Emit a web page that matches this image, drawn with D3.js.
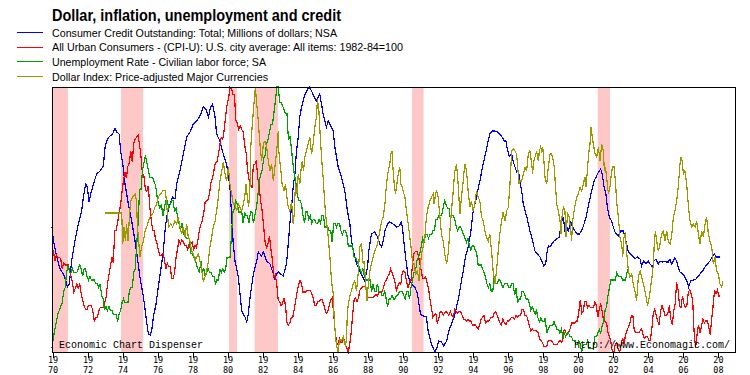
<!DOCTYPE html>
<html><head><meta charset="utf-8">
<script src="https://cdn.jsdelivr.net/npm/d3@7"></script>
<style>
body{margin:0;background:#fff;}
svg{display:block;}
</style></head><body>
<svg id="chart" width="750" height="375"></svg>
<script>
// ---------------- DATA ----------------
const chartTitle = "Dollar, inflation, unemployment and credit";
const seriesNames = [
  "Consumer Credit Outstanding: Total; Millions of dollars; NSA",
  "All Urban Consumers - (CPI-U): U.S. city average: All items: 1982-84=100",
  "Unemployment Rate - Civilian labor force; SA",
  "Dollar Index: Price-adjusted Major Currencies"
];
const tickYears = [1970,1972,1974,1976,1978,1980,1982,1984,1986,1988,1990,1992,1994,1996,1998,2000,2002,2004,2006,2008];
const recessionStart = [1970.00,1973.94,1980.11,1981.57,1990.56,2001.16];
const recessionEnd   = [1970.91,1975.20,1980.56,1982.90,1991.22,2001.86];

// Unemployment rate, monthly from Jan 1970
const unemploymentStart = 1970;
const unemployment = [
3.9,4.2,4.4,4.6,4.8,4.9,5.0,5.1,5.4,5.5,5.9,6.1,
5.9,5.9,6.0,5.9,5.9,5.9,6.0,6.1,6.0,5.8,6.0,6.0,
5.8,5.7,5.8,5.7,5.7,5.7,5.6,5.6,5.5,5.6,5.3,5.2,
4.9,5.0,4.9,5.0,4.9,4.9,4.8,4.8,4.8,4.6,4.8,4.9,
5.1,5.2,5.1,5.1,5.1,5.4,5.5,5.5,5.9,6.0,6.6,7.2,
8.1,8.1,8.6,8.8,9.0,8.8,8.6,8.4,8.4,8.4,8.3,8.2,
7.9,7.7,7.6,7.7,7.4,7.6,7.8,7.8,7.6,7.7,7.8,7.8,
7.5,7.6,7.4,7.2,7.0,7.2,6.9,7.0,6.8,6.8,6.8,6.4,
6.4,6.3,6.3,6.1,6.0,5.9,6.2,5.9,6.0,5.8,5.9,6.0,
5.9,5.9,5.8,5.8,5.6,5.7,5.7,6.0,5.9,6.0,5.9,6.0,
6.3,6.3,6.3,6.9,7.5,7.6,7.8,7.7,7.5,7.5,7.5,7.2,
7.5,7.4,7.4,7.2,7.5,7.5,7.2,7.4,7.6,7.9,8.3,8.5,
8.6,8.9,9.0,9.3,9.4,9.6,9.8,9.8,10.1,10.4,10.8,10.8,
10.4,10.4,10.3,10.2,10.1,10.1,9.4,9.5,9.2,8.8,8.5,8.3,
8.0,7.8,7.8,7.7,7.4,7.2,7.5,7.5,7.3,7.4,7.2,7.3,
7.3,7.2,7.2,7.3,7.2,7.4,7.4,7.1,7.1,7.1,7.0,7.0,
6.7,7.2,7.2,7.1,7.2,7.2,7.0,6.9,7.0,7.0,6.9,6.6,
6.6,6.6,6.6,6.3,6.3,6.2,6.1,6.0,5.9,6.0,5.8,5.7,
5.7,5.7,5.7,5.4,5.6,5.4,5.4,5.6,5.4,5.4,5.3,5.3,
5.4,5.2,5.0,5.2,5.2,5.3,5.2,5.2,5.3,5.3,5.4,5.4,
5.4,5.3,5.2,5.4,5.4,5.2,5.5,5.7,5.9,5.9,6.2,6.3,
6.4,6.6,6.8,6.7,6.9,6.9,6.8,6.9,6.9,7.0,7.0,7.3,
7.3,7.4,7.4,7.4,7.6,7.8,7.7,7.6,7.6,7.3,7.4,7.4,
7.3,7.1,7.0,7.1,7.1,7.0,6.9,6.8,6.7,6.8,6.6,6.5,
6.6,6.6,6.5,6.4,6.1,6.1,6.1,6.0,5.9,5.8,5.6,5.5,
5.6,5.4,5.4,5.8,5.6,5.6,5.7,5.7,5.6,5.5,5.6,5.6,
5.6,5.5,5.5,5.6,5.6,5.3,5.5,5.1,5.2,5.2,5.4,5.4,
5.3,5.2,5.2,5.1,4.9,5.0,4.9,4.8,4.9,4.7,4.6,4.7,
4.6,4.6,4.7,4.3,4.4,4.5,4.5,4.5,4.6,4.5,4.4,4.4,
4.3,4.4,4.2,4.3,4.2,4.3,4.3,4.2,4.2,4.1,4.1,4.0,
4.0,4.1,4.0,3.8,4.0,4.0,4.0,4.1,3.9,3.9,3.9,3.9,
4.2,4.2,4.3,4.4,4.3,4.5,4.6,4.9,5.0,5.3,5.5,5.7,
5.7,5.7,5.7,5.9,5.8,5.8,5.8,5.7,5.7,5.7,5.9,6.0
];

// CPI-U, % change from a year earlier, monthly from Jan 1970
const cpiStart = 1970;
const cpiInflation = [
6.2,6.3,5.8,6.1,6.0,6.0,5.9,5.4,5.7,5.6,5.6,5.6,
5.3,5.0,4.7,4.2,4.4,4.6,4.4,4.6,4.1,3.8,3.5,3.3,
3.3,3.5,3.5,3.5,3.2,2.7,2.9,2.9,3.2,3.4,3.4,3.4,
3.6,3.9,4.6,5.1,5.5,6.0,5.7,7.4,7.4,7.8,8.3,8.7,
9.4,10.0,10.4,10.1,10.7,10.9,11.5,10.9,11.9,12.1,12.2,12.3,
11.8,11.2,10.3,10.2,9.5,9.4,9.7,8.6,7.9,7.4,7.4,6.9,
6.7,6.3,6.1,6.1,6.2,5.9,5.4,5.7,5.5,5.5,4.9,4.9,
5.2,6.0,6.4,6.9,6.7,6.9,6.8,6.6,6.6,6.4,6.7,6.7,
6.8,6.4,6.6,6.5,6.9,7.4,7.7,7.9,8.3,8.9,8.9,9.0,
9.3,9.9,10.1,10.5,10.9,10.9,11.3,11.8,12.2,12.1,12.6,13.3,
13.9,14.2,14.8,14.7,14.4,14.4,13.1,12.9,12.6,12.8,12.6,12.5,
11.8,11.4,10.5,10.0,9.8,9.6,10.8,10.8,11.0,10.1,9.6,8.9,
8.4,7.6,6.8,6.5,6.7,7.1,6.4,5.9,5.0,5.1,4.6,3.8,
3.7,3.5,3.6,3.9,3.5,2.6,2.5,2.6,2.9,2.9,3.3,3.8,
4.2,4.6,4.8,4.6,4.2,4.2,4.2,4.3,4.3,4.3,4.1,3.9,
3.5,3.5,3.7,3.7,3.8,3.8,3.6,3.3,3.1,3.2,3.5,3.8,
3.9,3.1,2.2,1.6,1.5,1.8,1.6,1.6,1.8,1.5,1.3,1.1,
1.5,2.1,3.0,3.8,3.9,3.7,3.9,4.3,4.4,4.5,4.5,4.4,
4.0,3.9,3.9,3.9,3.9,4.0,4.1,4.0,4.2,4.2,4.2,4.4,
4.7,4.8,5.0,5.1,5.4,5.2,5.0,4.7,4.3,4.5,4.7,4.6,
5.2,5.3,5.2,4.7,4.4,4.7,4.8,5.6,6.2,6.3,6.3,6.1,
5.7,5.3,4.9,4.9,5.0,4.7,4.4,3.8,3.4,2.9,3.0,3.1,
2.6,2.8,3.2,3.2,3.0,3.1,3.2,3.1,3.0,3.2,3.0,2.9,
3.3,3.2,3.1,3.2,3.2,3.0,2.8,2.8,2.7,2.8,2.7,2.7,
2.5,2.5,2.5,2.4,2.3,2.5,2.8,2.9,3.0,2.6,2.7,2.7,
2.8,2.9,2.9,3.1,3.2,3.0,2.8,2.6,2.5,2.8,2.6,2.5,
2.7,2.7,2.8,2.9,2.9,2.8,3.0,2.9,3.0,3.0,3.3,3.3,
3.0,3.0,2.8,2.5,2.2,2.3,2.2,2.2,2.2,2.1,1.8,1.7,
1.6,1.4,1.4,1.4,1.7,1.7,1.7,1.6,1.5,1.5,1.5,1.6,
1.7,1.6,1.7,2.3,2.1,2.0,2.1,2.3,2.6,2.6,2.6,2.7,
2.7,3.2,3.8,3.1,3.2,3.7,3.7,3.4,3.5,3.4,3.4,3.4,
3.7,3.5,2.9,3.3,3.6,3.2,2.7,2.7,2.6,2.1,1.9,1.6,
1.1,1.1,1.5,1.6,1.2,1.1,1.5,1.8,1.5,2.0,2.2,2.4,
2.6,3.0,3.0,2.2,2.1,2.1,2.1,2.2,2.3,2.0,1.8,1.9,
1.9,1.7,1.7,2.3,3.1,3.3,3.0,2.7,2.5,3.2,3.5,3.3,
3.0,3.0,3.1,3.5,2.8,2.5,3.2,3.6,4.7,4.3,3.5,3.4,
4.0,3.6,3.4,3.5,4.2,4.3,4.1,3.8,2.1,1.3,2.0,2.5,
2.1,2.4,2.8,2.6,2.7,2.7,2.4,2.0,2.8,3.5,4.3,4.1,
4.3,4.0,4.0
];

// Consumer credit, % change from a year earlier: [year, value]
const creditPoints = [
[1970.00,10.5],[1970.08,9.1],[1970.27,7.5],[1970.46,6.3],[1970.65,5.8],[1970.80,5.1],[1970.88,4.5],[1970.99,4.8],[1971.12,7.1],[1971.31,9.1],[1971.50,10.8],[1971.69,12.1],[1971.79,13.5],[1971.92,14.8],[1972.02,14.5],[1972.11,13.0],[1972.21,13.8],[1972.32,14.5],[1972.42,15.1],[1972.55,15.8],[1972.74,16.1],[1972.93,16.6],[1973.03,18.5],[1973.16,19.3],[1973.31,19.6],[1973.46,19.8],[1973.60,20.4],[1973.69,20.0],[1973.83,19.8],[1973.92,18.1],[1974.04,16.8],[1974.17,14.8],[1974.36,12.8],[1974.55,11.1],[1974.74,9.1],[1974.87,7.5],[1975.02,5.5],[1975.22,3.5],[1975.37,1.5],[1975.50,-0.2],[1975.60,-0.3],[1975.69,0.1],[1975.79,1.5],[1975.94,2.8],[1976.07,4.5],[1976.20,6.1],[1976.36,8.1],[1976.45,10.1],[1976.55,11.5],[1976.74,12.8],[1976.89,13.5],[1977.02,13.3],[1977.12,14.8],[1977.31,16.1],[1977.50,17.8],[1977.69,19.5],[1977.88,20.0],[1978.07,20.8],[1978.26,21.1],[1978.45,21.6],[1978.64,22.5],[1978.79,22.3],[1978.93,21.5],[1979.06,22.5],[1979.17,22.8],[1979.31,21.5],[1979.40,19.8],[1979.59,19.1],[1979.78,17.8],[1979.97,16.8],[1980.16,14.5],[1980.26,11.5],[1980.35,8.8],[1980.45,7.1],[1980.64,5.5],[1980.83,2.1],[1981.02,1.5],[1981.12,1.0],[1981.21,1.8],[1981.31,3.5],[1981.50,5.8],[1981.69,7.1],[1981.78,8.0],[1981.97,7.6],[1982.07,8.0],[1982.26,7.1],[1982.45,6.8],[1982.64,5.8],[1982.73,5.3],[1982.83,5.8],[1982.92,6.0],
[1983.20,5.6],[1983.39,6.8],[1983.49,8.8],[1983.58,10.8],[1983.68,12.5],[1983.77,14.5],[1983.87,15.8],[1983.96,18.1],[1984.06,19.5],[1984.15,21.5],[1984.25,22.5],[1984.40,23.5],[1984.53,24.1],[1984.69,24.5],[1984.82,24.1],[1984.97,23.5],[1985.10,23.1],[1985.20,23.5],[1985.29,23.8],[1985.39,22.8],[1985.48,21.8],[1985.58,21.1],[1985.67,20.5],[1985.77,21.1],[1985.87,20.8],[1986.06,20.1],[1986.15,18.5],[1986.34,16.5],[1986.53,15.5],[1986.72,14.1],[1986.87,12.1],[1987.01,10.8],[1987.10,9.1],[1987.25,7.8],[1987.39,6.8],[1987.58,6.1],[1987.71,5.6],[1987.86,5.1],[1988.02,6.5],[1988.09,8.1],[1988.24,9.8],[1988.43,10.0],[1988.59,9.5],[1988.72,8.8],[1988.82,8.5],[1988.91,9.1],[1989.01,10.1],[1989.16,10.8],[1989.29,11.0],[1989.48,10.8],[1989.67,10.5],[1989.81,10.6],[1989.96,11.0],[1990.05,9.8],[1990.15,8.1],[1990.24,6.8],[1990.34,5.5],[1990.53,4.8],[1990.72,4.5],[1990.87,3.8],[1990.95,2.8],[1991.04,1.8],[1991.19,1.6],[1991.38,1.5],[1991.48,0.1],[1991.67,-1.2],[1991.86,-2.0],[1991.99,-1.5],[1992.09,-0.9],[1992.24,-1.0],[1992.37,-1.4],[1992.53,-0.9],[1992.66,0.1],[1992.81,0.8],[1992.96,1.5],[1993.10,2.5],[1993.23,3.5],[1993.35,4.8],[1993.48,6.1],[1993.61,7.5],[1993.76,8.5],[1993.92,10.1],[1994.05,12.1],[1994.24,13.5],[1994.43,15.1],[1994.62,16.8],[1994.75,17.8],[1994.87,18.8],[1995.00,19.8],[1995.13,20.1],[1995.29,20.1],[1995.44,20.0],[1995.57,19.8],[1995.67,19.6],[1995.82,19.1],
[1995.92,19.1],[1996.00,18.3],[1996.11,17.6],[1996.25,17.8],[1996.34,17.0],[1996.44,16.5],[1996.53,16.0],[1996.63,16.1],[1996.72,15.1],[1996.82,14.1],[1996.91,12.8],[1997.01,12.1],[1997.10,11.6],[1997.20,10.8],[1997.29,10.1],[1997.39,9.5],[1997.48,8.8],[1997.58,8.1],[1997.71,7.8],[1997.87,7.5],[1997.96,7.1],[1998.09,6.6],[1998.19,6.8],[1998.25,7.8],[1998.34,8.6],[1998.44,8.5],[1998.53,8.8],[1998.66,9.1],[1998.82,9.3],[1998.97,9.5],[1999.05,10.5],[1999.12,11.1],[1999.20,11.5],[1999.29,10.1],[1999.39,10.5],[1999.48,10.1],[1999.62,11.0],[1999.73,10.5],[1999.86,10.1],[2000.00,9.8],[2000.11,9.8],[2000.24,10.1],[2000.38,10.8],[2000.50,11.5],[2000.57,12.1],[2000.68,13.1],[2000.82,14.1],[2000.95,15.1],[2001.07,15.5],[2001.20,16.0],[2001.33,16.3],[2001.42,15.8],[2001.52,14.5],[2001.63,13.8],[2001.71,12.5],[2001.82,11.5],[2001.96,11.1],[2002.05,10.5],[2002.15,10.0],[2002.24,9.8],[2002.34,9.6],[2002.47,10.1],[2002.62,10.1],[2002.72,9.5],[2002.81,8.8],[2002.91,8.0],[2003.04,7.8],[2003.16,7.6],[2003.29,7.3],[2003.42,7.5],[2003.58,7.3],[2003.67,6.6],[2003.77,7.1],[2003.92,6.8],[2004.05,7.1],[2004.15,6.8],[2004.30,6.5],[2004.37,7.1],[2004.49,7.3],[2004.62,6.8],[2004.72,7.1],[2004.87,7.0],[2005.00,7.1],[2005.10,7.0],[2005.19,7.0],[2005.29,7.3],[2005.38,6.8],[2005.48,7.1],[2005.57,7.4],[2005.67,7.1],[2005.76,6.5],[2005.86,6.0],[2006.01,5.8],[2006.14,5.5],[2006.28,5.0],[2006.35,4.5],[2006.47,5.1],[2006.62,5.2],[2006.77,5.3],[2006.91,5.6],[2007.00,5.8],[2007.15,6.1],[2007.29,6.5],[2007.42,6.8],[2007.57,7.1],[2007.72,7.6],[2007.82,7.8],[2007.95,7.5],[2008.14,7.5]
];

// Dollar index, % change from a year earlier: [year, value]
const dollarPoints = [
[1973.03,0.9],[1973.98,0.9],[1974.04,-2.2],[1974.11,-0.5],[1974.19,-1.9],[1974.26,-0.2],[1974.34,-1.9],[1974.42,0.5],[1974.49,2.1],[1974.61,2.5],[1974.74,2.8],[1974.83,2.1],[1974.87,-0.2],[1974.95,-1.9],[1975.02,-3.5],[1975.12,-2.5],[1975.22,-1.9],[1975.31,-0.9],[1975.41,-0.5],[1975.50,0.1],[1975.60,0.5],[1975.75,0.8],[1975.88,1.5],[1975.98,1.8],[1976.07,2.5],[1976.20,2.8],[1976.32,3.1],[1976.45,3.2],[1976.51,2.5],[1976.59,0.8],[1976.66,-0.5],[1976.78,-0.2],[1976.89,-0.5],[1977.02,0.1],[1977.12,-0.2],[1977.21,0.5],[1977.31,-0.5],[1977.40,-1.2],[1977.50,-0.5],[1977.59,-1.5],[1977.69,-0.2],[1977.78,-1.5],[1977.88,-1.9],[1977.97,-2.9],[1978.07,-3.2],[1978.17,-3.9],[1978.26,-3.5],[1978.36,-3.2],[1978.45,-3.9],[1978.55,-4.9],[1978.64,-5.9],[1978.74,-5.5],[1978.83,-4.9],[1978.93,-3.9],[1979.02,-2.5],[1979.12,-1.5],[1979.21,-0.5],[1979.31,0.1],[1979.40,1.1],[1979.50,2.5],[1979.59,4.1],[1979.69,5.1],[1979.78,6.0],[1979.88,4.8],[1979.97,4.1],[1980.07,5.5],[1980.16,3.8],[1980.26,2.8],[1980.35,1.8],[1980.45,1.8],[1980.54,1.1],[1980.64,1.8],[1980.73,1.5],[1980.83,1.1],[1980.93,1.8],[1981.02,2.8],[1981.08,3.8],[1981.15,2.5],[1981.23,1.5],[1981.31,3.8],[1981.36,7.8],[1981.44,9.8],[1981.53,11.8],[1981.61,13.5],[1981.69,11.8],[1981.78,10.1],[1981.84,8.5],[1981.91,7.1],[1981.97,6.1],[1982.07,7.8],[1982.16,8.1],[1982.26,7.5],[1982.35,6.1],[1982.45,5.1],[1982.54,5.8],[1982.64,4.1],[1982.73,5.5],[1982.83,7.1],[1982.92,9.1],[1982.95,7.1],
[1983.07,5.1],[1983.14,3.8],[1983.26,3.1],[1983.33,3.8],[1983.41,2.5],[1983.49,1.5],[1983.58,1.1],[1983.68,2.1],[1983.77,-0.2],[1983.83,0.8],[1983.90,3.8],[1983.98,2.8],[1984.06,4.8],[1984.15,3.8],[1984.21,5.1],[1984.29,6.1],[1984.36,5.1],[1984.44,6.5],[1984.53,7.1],[1984.63,7.8],[1984.72,8.5],[1984.82,6.8],[1984.91,7.8],[1985.01,9.5],[1985.10,10.5],[1985.16,12.3],[1985.24,11.1],[1985.31,8.8],[1985.39,6.5],[1985.48,4.5],[1985.54,2.8],[1985.62,0.8],[1985.69,-0.2],[1985.77,-1.5],[1985.87,-3.5],[1985.96,-5.9],[1986.06,-7.2],[1986.11,-9.5],[1986.19,-11.5],[1986.26,-12.5],[1986.34,-13.0],[1986.40,-12.0],[1986.45,-11.7],[1986.53,-11.9],[1986.63,-11.5],[1986.68,-11.9],[1986.76,-12.5],[1986.82,-11.5],[1986.87,-8.9],[1986.95,-7.9],[1987.03,-7.2],[1987.10,-6.9],[1987.20,-6.2],[1987.29,-5.9],[1987.39,-6.9],[1987.48,-5.2],[1987.58,-2.5],[1987.67,-2.2],[1987.77,-4.2],[1987.83,-3.9],[1987.90,-5.9],[1987.98,-7.9],[1988.05,-6.5],[1988.15,-4.9],[1988.24,-4.2],[1988.34,-3.5],[1988.43,-2.9],[1988.53,-2.5],[1988.62,-1.9],[1988.72,-0.9],[1988.82,0.1],[1988.91,0.5],[1989.01,1.8],[1989.10,3.8],[1989.20,5.1],[1989.29,5.8],[1989.35,6.8],[1989.42,7.1],[1989.48,5.1],[1989.54,3.8],[1989.61,2.8],[1989.67,3.5],[1989.77,4.8],[1989.86,5.5],[1989.92,3.8],[1990.00,3.5],[1990.05,3.1],[1990.15,2.5],[1990.24,1.1],[1990.34,-0.2],[1990.43,-1.5],[1990.53,-2.9],[1990.59,-4.2],[1990.68,-4.2],[1990.76,-5.2],[1990.87,-4.9],[1990.95,-5.9],[1991.02,-4.5],[1991.10,-3.2],[1991.19,-2.5],[1991.29,-1.5],[1991.38,0.5],[1991.48,1.5],[1991.58,2.1],[1991.67,2.5],[1991.77,2.8],[1991.82,1.8],[1991.90,2.8],[1991.97,3.1],[1992.05,2.5],[1992.15,0.5],[1992.24,-1.2],[1992.34,-1.9],[1992.43,-3.2],[1992.53,-4.2],[1992.62,-3.2],[1992.72,-0.9],[1992.81,1.1],[1992.91,3.1],[1993.00,5.1],[1993.10,5.8],[1993.19,3.8],[1993.29,0.8],[1993.38,2.5],[1993.48,4.1],[1993.57,5.8],[1993.67,5.1],[1993.76,3.1],[1993.86,1.5],[1993.95,2.1],[1994.05,1.1],[1994.14,1.8],[1994.24,3.1],[1994.33,2.5],[1994.43,2.1],[1994.53,0.5],[1994.62,0.1],[1994.72,-0.9],[1994.81,-1.5],[1994.91,-1.9],[1995.00,-1.2],[1995.10,-2.9],[1995.19,-4.9],[1995.29,-6.2],[1995.38,-4.9],[1995.48,-2.9],[1995.57,-1.2],[1995.67,0.1],[1995.76,1.0],
[1995.87,0.1],[1995.96,1.1],[1996.06,1.5],[1996.15,3.8],[1996.25,7.1],[1996.34,7.3],[1996.44,7.1],[1996.53,6.8],[1996.59,5.5],[1996.67,3.8],[1996.72,4.1],[1996.82,4.1],[1996.91,4.8],[1997.01,5.5],[1997.10,5.1],[1997.20,6.8],[1997.29,7.1],[1997.39,5.8],[1997.45,4.8],[1997.48,5.8],[1997.58,6.5],[1997.67,7.1],[1997.77,6.1],[1997.83,7.1],[1997.90,7.5],[1997.96,7.1],[1998.02,7.5],[1998.09,6.1],[1998.15,4.5],[1998.25,3.8],[1998.34,5.5],[1998.44,6.8],[1998.53,6.8],[1998.63,6.1],[1998.68,5.5],[1998.74,3.8],[1998.82,1.8],[1998.91,1.1],[1999.01,0.1],[1999.06,-1.2],[1999.12,0.5],[1999.20,1.5],[1999.29,1.1],[1999.35,-1.5],[1999.41,0.1],[1999.46,0.8],[1999.54,0.5],[1999.62,-0.9],[1999.67,-1.9],[1999.73,0.1],[1999.81,1.1],[1999.88,1.8],[1999.96,2.5],[2000.05,2.8],[2000.15,3.5],[2000.24,3.1],[2000.34,3.8],[2000.43,4.5],[2000.49,3.5],[2000.57,5.1],[2000.64,6.8],[2000.72,7.8],[2000.78,9.5],[2000.83,8.8],[2000.91,7.8],[2001.01,6.8],[2001.10,6.5],[2001.20,7.5],[2001.29,6.1],[2001.39,7.8],[2001.48,7.1],[2001.54,5.1],[2001.60,5.5],[2001.67,4.5],[2001.77,2.8],[2001.86,3.5],[2001.92,4.5],[2002.00,5.5],[2002.09,5.5],[2002.17,4.1],[2002.24,2.1],[2002.34,0.5],[2002.43,-1.5],[2002.53,-2.2],[2002.59,-3.5],[2002.66,-1.5],[2002.74,-1.2],[2002.81,-2.9],[2002.91,-4.9],[2003.00,-5.5],[2003.10,-5.2],[2003.19,-6.2],[2003.29,-6.9],[2003.38,-7.9],[2003.48,-5.5],[2003.58,-4.9],[2003.67,-5.5],[2003.77,-6.2],[2003.86,-6.9],[2003.96,-7.9],[2004.01,-8.4],[2004.11,-7.5],[2004.18,-6.5],[2004.26,-5.5],[2004.34,-4.2],[2004.39,-2.2],[2004.45,-0.9],[2004.53,-1.9],[2004.62,-2.9],[2004.72,-2.2],[2004.81,-1.2],[2004.91,-0.9],[2005.00,-1.9],[2005.10,-0.9],[2005.19,-1.9],[2005.29,-2.2],[2005.38,-1.5],[2005.48,0.5],[2005.57,1.1],[2005.67,2.1],[2005.76,3.5],[2005.86,5.8],[2005.92,6.5],[2005.99,6.1],[2006.05,4.8],[2006.14,5.1],[2006.24,3.8],[2006.33,1.8],[2006.43,0.1],[2006.53,-0.5],[2006.62,-0.2],[2006.72,-0.5],[2006.81,0.1],[2006.91,-1.2],[2007.00,-2.2],[2007.10,-0.9],[2007.19,-1.5],[2007.29,-0.2],[2007.38,0.5],[2007.48,-1.2],[2007.57,-1.9],[2007.67,-2.5],[2007.76,-4.2],[2007.86,-3.5],[2007.95,-4.9],[2008.05,-5.2],[2008.14,-6.2],[2008.24,-6.5],[2008.30,-5.9]
];

// ---------------- CHART ----------------
const W = 750, H = 375;
const plot = {left: 52, right: 735, top: 87, bottom: 352};
const colors = ["#0000ff", "#ff0000", "#00a000", "#999900"];

const svg = d3.select("#chart");
svg.append("rect").attr("width", W).attr("height", H).attr("fill", "#fff");

const x = d3.scaleLinear().domain([1970, 2009]).range([plot.left, plot.right]);

const monthly = (arr, start) => arr.map((v, i) => [start + i / 12, v]);
const seriesData = [
  creditPoints,
  monthly(cpiInflation, cpiStart),
  monthly(unemployment, unemploymentStart),
  dollarPoints
];

// recession bands
svg.append("g").selectAll("rect")
  .data(recessionStart.map((s, i) => [s, recessionEnd[i]]))
  .join("rect")
  .attr("x", d => x(d[0]))
  .attr("width", d => x(d[1]) - x(d[0]))
  .attr("y", plot.top)
  .attr("height", plot.bottom - plot.top)
  .attr("fill", "#ffc8c8");

// series lines, each scaled to its own range
seriesData.forEach((data, i) => {
  const y = d3.scaleLinear().domain(d3.extent(data, d => d[1])).range([plot.bottom, plot.top]);
  const line = d3.line().x(d => x(d[0])).y(d => y(d[1]));
  svg.append("path")
    .datum(data)
    .attr("d", line)
    .attr("fill", "none")
    .attr("stroke", colors[i])
    .attr("stroke-width", 1.2)
    .attr("shape-rendering", "crispEdges");
});

// plot frame
svg.append("rect")
  .attr("x", plot.left + 0.5).attr("y", plot.top + 0.5)
  .attr("width", plot.right - plot.left).attr("height", plot.bottom - plot.top)
  .attr("fill", "none").attr("stroke", "#000").attr("stroke-width", 1)
  .attr("shape-rendering", "crispEdges");

// x axis
const xAxis = d3.axisBottom(x).tickValues(tickYears).tickSize(5).tickSizeOuter(0).tickFormat(() => "");
const gx = svg.append("g").attr("transform", `translate(0.5,${plot.bottom + 0.5})`).call(xAxis);
gx.select(".domain").remove();
gx.selectAll(".tick line").attr("stroke", "#000").attr("shape-rendering", "crispEdges");
gx.selectAll(".tick text").remove();
const labelFont = "'DejaVu Sans Mono', 'Liberation Mono', monospace";
gx.selectAll(".tick").append("text")
  .attr("fill", "#000").attr("font-family", labelFont).attr("font-size", 8.5)
  .attr("text-anchor", "middle").attr("x", 0).attr("y", 10.5)
  .text(d => String(d).slice(0, 2));
gx.selectAll(".tick").append("text")
  .attr("fill", "#000").attr("font-family", labelFont).attr("font-size", 8.5)
  .attr("text-anchor", "middle").attr("x", 0).attr("y", 20.4)
  .text(d => String(d).slice(2));

// title
svg.append("text")
  .attr("x", 52).attr("y", 21)
  .attr("font-family", "'Liberation Sans', Arial, sans-serif")
  .attr("font-weight", "bold").attr("font-size", 17)
  .attr("textLength", 289).attr("lengthAdjust", "spacingAndGlyphs")
  .text(chartTitle);

// legend
const legendWidths = [285, 351, 214, 216];
const lg = svg.append("g");
seriesNames.forEach((name, i) => {
  const by = 36.5 + i * 14.7;
  lg.append("line")
    .attr("x1", 17).attr("x2", 43)
    .attr("y1", Math.round(by - 4.5) + 0.5).attr("y2", Math.round(by - 4.5) + 0.5)
    .attr("stroke", colors[i]).attr("stroke-width", 1)
    .attr("shape-rendering", "crispEdges");
  lg.append("text")
    .attr("x", 52).attr("y", by)
    .attr("font-family", "'Liberation Sans', Arial, sans-serif")
    .attr("font-size", 11.5)
    .attr("textLength", legendWidths[i]).attr("lengthAdjust", "spacingAndGlyphs")
    .text(name);
});

// credits inside plot
svg.append("text")
  .attr("x", 59).attr("y", 347.5)
  .attr("font-family", "'Liberation Mono', 'DejaVu Sans Mono', monospace")
  .attr("font-size", 10)
  .text("Economic Chart Dispenser");
svg.append("text")
  .attr("x", 730).attr("y", 347.5)
  .attr("text-anchor", "end")
  .attr("font-family", "'Liberation Mono', 'DejaVu Sans Mono', monospace")
  .attr("font-size", 10)
  .text("http://www.Economagic.com/");
</script>
</body></html>
